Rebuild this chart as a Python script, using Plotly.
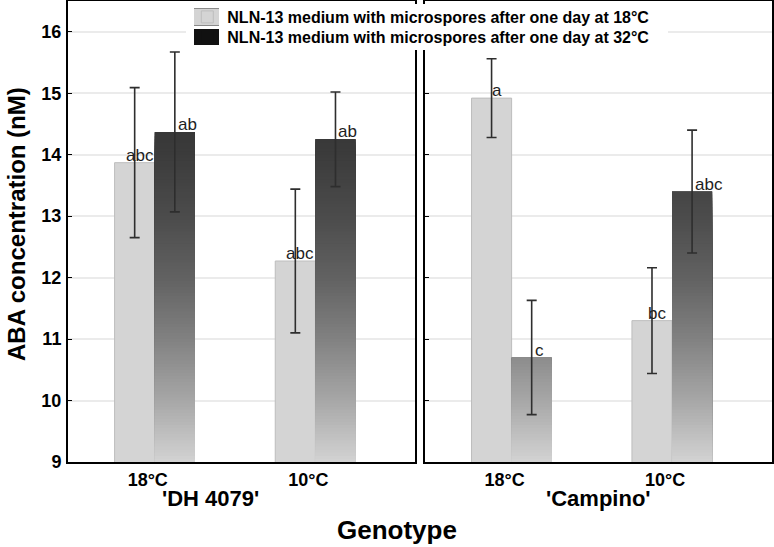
import numpy as np
import plotly.graph_objects as go
from plotly.subplots import make_subplots

# ---------------- data ----------------
categories = ["18°C", "10°C"]
genotypes = ["'DH 4079'", "'Campino'"]
series_names = ["NLN-13 medium with microspores after one day at 18°C",
                "NLN-13 medium with microspores after one day at 32°C"]

dh_18_mean = [13.87, 12.27]
dh_18_err = [1.22, 1.17]
dh_32_mean = [14.37, 14.25]
dh_32_err = [1.30, 0.77]

camp_18_mean = [14.92, 11.30]
camp_18_err = [0.64, 0.86]
camp_32_mean = [10.70, 13.40]
camp_32_err = [0.93, 1.00]

dh_18_letters = ["abc", "abc"]
dh_32_letters = ["ab", "ab"]
camp_18_letters = ["a", "bc"]
camp_32_letters = ["c", "abc"]

y_ticks = [9, 10, 11, 12, 13, 14, 15, 16]

# ---------------- style ----------------
FONT = "Liberation Sans, Arial, sans-serif"
LIGHT = "#d4d4d4"
DARK = "#111111"
BAR_W = 0.25
grad_y = [9, 10, 11, 12, 13, 14, 14.5, 16.5]
grad_g = [212, 168, 130, 98, 76, 60, 54, 40]
PLOT_H = 461  # plot-area height in px (547 - t - b)


def shade(v):
    g = int(round(np.interp(v, grad_y, grad_g)))
    return f"rgb({g},{g},{g})"


def py(px):
    """pixel row -> paper y"""
    return 1 - (px - 1) / PLOT_H


fig = make_subplots(rows=1, cols=2, horizontal_spacing=0.0)

panels = [
    (1, dh_18_mean, dh_18_err, dh_32_mean, dh_32_err, dh_18_letters, dh_32_letters),
    (2, camp_18_mean, camp_18_err, camp_32_mean, camp_32_err, camp_18_letters, camp_32_letters),
]

step = 0.05
levels = np.arange(16.5, 9.0, -step)

for col, m18, e18, m32, e32, l18, l32 in panels:
    first = col == 1
    fig.add_trace(go.Bar(x=categories, y=m18, name=series_names[0], offset=-BAR_W, width=BAR_W,
                         marker=dict(color=LIGHT, line=dict(color="#bdbdbd", width=1)),
                         showlegend=first, legend="legend"), row=1, col=col)
    fig.add_trace(go.Bar(x=categories, y=m32, name=series_names[1], offset=0, width=BAR_W,
                         marker=dict(color=DARK, line=dict(width=0)),
                         showlegend=first, legend="legend2"), row=1, col=col)
    # vertical gradient for dark bars (absolute on y)
    for L in levels:
        ys = [min(v, L) if v > L - step else None for v in m32]
        if all(y is None for y in ys):
            continue
        fig.add_trace(go.Bar(x=categories, y=ys, offset=0, width=BAR_W,
                             marker=dict(color=shade(L), line=dict(width=0)),
                             showlegend=False, hoverinfo="skip"), row=1, col=col)
    for mean, err, off in [(m18, e18, -BAR_W), (m32, e32, 0)]:
        fig.add_trace(go.Bar(x=categories, y=mean, offset=off, width=BAR_W,
                             marker=dict(color="rgba(0,0,0,0)", line=dict(width=0)),
                             error_y=dict(type="data", array=err, visible=True,
                                          color="#2e2e2e", thickness=1.6, width=5),
                             showlegend=False, hoverinfo="skip"), row=1, col=col)
    xa = "x" if col == 1 else "x2"
    ya = "y" if col == 1 else "y2"
    for c, v, t in zip(categories, m18, l18):
        fig.add_annotation(x=c, y=v, xref=xa, yref=ya, text=t, showarrow=False,
                           xanchor="center", yanchor="bottom", xshift=-20 + 5, yshift=-4,
                           font=dict(family=FONT, size=17, color="#1e1e1e"))
    for c, v, t in zip(categories, m32, l32):
        fig.add_annotation(x=c, y=v, xref=xa, yref=ya, text=t, showarrow=False,
                           xanchor="left", yanchor="bottom", xshift=20 + 1, yshift=-4,
                           font=dict(family=FONT, size=17, color="#1e1e1e"))

legend_style = dict(x=0.242, xanchor="left", yanchor="top",
                    bgcolor="rgba(0,0,0,0)", borderwidth=0,
                    font=dict(family=FONT, size=16, color="black", weight="bold"))
fig.update_layout(
    width=774, height=547,
    margin=dict(l=0, r=0, t=1, b=85),
    paper_bgcolor="white", plot_bgcolor="white",
    barmode="overlay",
    font=dict(family=FONT, color="black"),
    legend=dict(y=py(0), **legend_style),
    legend2=dict(y=py(20), **legend_style),
)

# white backing behind the legend (covers grid line and panel borders)
fig.add_shape(type="rect", xref="paper", yref="paper",
              x0=186 / 774, x1=668 / 774, y0=py(50), y1=py(4),
              fillcolor="white", line=dict(width=0), layer="above")
# larger legend swatches underneath the legend symbols
fig.add_shape(type="rect", xref="paper", yref="paper",
              x0=194 / 774, x1=219 / 774, y0=py(26), y1=py(8),
              fillcolor=LIGHT, line=dict(width=0), layer="above")
for yy in (8.5, 25.5):
    fig.add_shape(type="line", xref="paper", yref="paper",
                  x0=194 / 774, x1=219 / 774, y0=py(yy), y1=py(yy),
                  line=dict(color="#8a8a8a", width=1), layer="above")
fig.add_shape(type="rect", xref="paper", yref="paper",
              x0=194 / 774, x1=219 / 774, y0=py(45), y1=py(29),
              fillcolor=DARK, line=dict(width=0), layer="above")

xdomains = [[68 / 774, 415 / 774], [425 / 774, 771.5 / 774]]
for i, dom in enumerate(xdomains, start=1):
    fig.update_xaxes(domain=dom, type="category", categoryorder="array", categoryarray=categories,
                     range=[-0.54, 1.62], showline=True, mirror=True, linecolor="black",
                     linewidth=2, ticks="", showgrid=False, ticklabelshift=-7,
                     ticklabelstandoff=0,
                     tickfont=dict(family=FONT, size=18, color="black", weight="bold"),
                     row=1, col=i)
    fig.update_yaxes(range=[9, 16.5], tickvals=y_ticks, showline=True, mirror=True,
                     linecolor="black", linewidth=2, ticks="inside", ticklen=4,
                     tickcolor="black", showgrid=True, gridcolor="#ebebeb", gridwidth=1.5,
                     zeroline=False, showticklabels=(i == 1), ticklabelstandoff=1,
                     tickfont=dict(family=FONT, size=18, color="black", weight="bold"),
                     row=1, col=i)
fig.update_yaxes(matches="y", row=1, col=2)

fig.add_annotation(x=16 / 774, y=py(224), xref="paper", yref="paper",
                   text="ABA concentration (nM)", textangle=-90, showarrow=False,
                   xanchor="center", yanchor="middle",
                   font=dict(family=FONT, size=24, color="black", weight="bold"))
for g, px in zip(genotypes, [210.5, 598.3]):
    fig.add_annotation(x=px / 774, y=py(499), xref="paper", yref="paper", text=g,
                       showarrow=False, xanchor="center", yanchor="middle",
                       font=dict(family=FONT, size=22, color="black", weight="bold"))
fig.add_annotation(x=397 / 774, y=py(530), xref="paper", yref="paper", text="Genotype",
                   showarrow=False, xanchor="center", yanchor="middle",
                   font=dict(family=FONT, size=26, color="black", weight="bold"))

fig.write_html("out.html", config={"displayModeBar": False},
               post_script="document.body.style.margin='0';document.body.style.overflow='hidden';")
